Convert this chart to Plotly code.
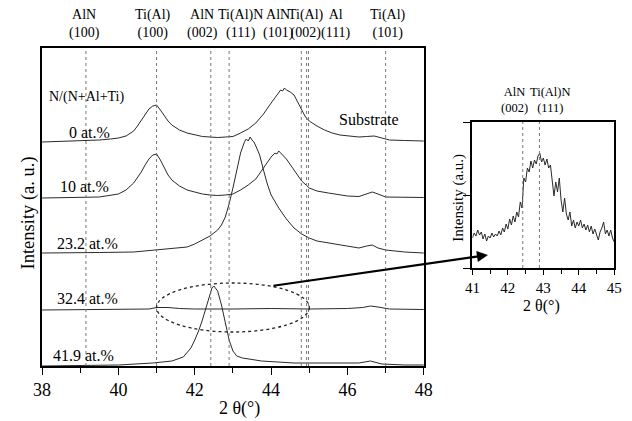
import plotly.graph_objects as go

W, H = 632, 421
FONT = "Liberation Serif, Times New Roman, serif"

# ---------------- data ----------------
# main panel: 2theta (deg) and stacked intensity (a.u., offsets included)
x_0 = [38.0, 38.5, 39.0, 39.5, 39.8, 40.0, 40.2, 40.4, 40.5, 40.6, 40.7, 40.8, 40.9, 41.0,
       41.1, 41.2, 41.3, 41.4, 41.6, 41.8, 42.0, 42.2, 42.4, 42.6, 42.8, 43.0, 43.2, 43.4,
       43.6, 43.8, 44.0, 44.1, 44.2, 44.25, 44.3, 44.35, 44.4, 44.5, 44.6, 44.7, 44.8, 44.9,
       45.0, 45.2, 45.4, 45.6, 45.8, 46.0, 46.3, 46.5, 46.7, 46.9, 47.1, 47.5, 48.0]
y_0 = [225, 225.5, 226, 227, 228, 229, 231, 236, 241, 247, 253, 258, 261, 262,
       257, 251, 246, 242, 237, 234, 232, 230.5, 230, 229.5, 230, 230.5, 234, 238,
       244, 253, 264, 269, 274, 277, 276, 279, 277, 275, 272, 265, 257, 250,
       246, 241, 237, 234, 232, 231, 230, 230.5, 231, 229, 227, 226.5, 226]

x_10 = [38.0, 39.0, 39.5, 40.0, 40.2, 40.4, 40.5, 40.6, 40.7, 40.8, 40.9, 41.0, 41.1, 41.2,
        41.3, 41.4, 41.6, 41.8, 42.0, 42.2, 42.4, 42.6, 42.8, 43.0, 43.2, 43.4, 43.6, 43.8,
        44.0, 44.1, 44.15, 44.2, 44.25, 44.3, 44.4, 44.6, 44.8, 45.0, 45.2, 45.5, 46.0, 46.3,
        46.5, 46.65, 46.8, 47.0, 48.0]
y_10 = [169, 169.5, 170, 173, 177, 184, 189, 195, 202, 208, 212, 213, 207, 199,
        192, 187, 181, 177, 175, 173, 172, 171.5, 172, 173, 177, 182, 188, 199,
        210, 214, 213, 216, 214, 213, 208, 197, 186, 179, 176, 174, 171, 170.5,
        173, 175, 173, 170, 169.5]

x_23 = [38.0, 38.7, 39.5, 40.4, 41.0, 41.6, 41.8, 42.0, 42.2, 42.4, 42.6, 42.7, 42.8, 42.9,
        43.0, 43.1, 43.2, 43.3, 43.35, 43.4, 43.45, 43.5, 43.55, 43.6, 43.7, 43.8, 43.9, 44.0,
        44.2, 44.4, 44.6, 44.8, 45.0, 45.2, 45.5, 46.0, 46.3, 46.5, 46.65, 46.8, 47.0, 47.5, 48.0]
y_23 = [114, 114, 114.5, 115, 117, 119, 120, 123, 127, 131, 137, 142, 150, 163,
        179, 197, 214, 225, 228, 226, 230, 227, 225, 221, 212, 197, 183, 172,
        159, 148, 139, 133, 129, 126, 124, 121, 119, 121, 122, 119, 117, 115, 114]

x_32 = [38.0, 39.0, 40.0, 40.8, 41.0, 41.3, 41.6, 42.0, 43.0, 44.0, 45.0, 46.0, 46.4, 46.6,
        46.8, 47.1, 48.0]
y_32 = [57, 57.5, 57.5, 58, 59.5, 59.5, 58.5, 58, 58, 58.5, 58, 58.5, 59.5, 61,
        60, 58, 57.5]

x_42 = [38.0, 39.0, 40.0, 40.9, 41.4, 41.7, 41.9, 42.0, 42.1, 42.2, 42.3, 42.4, 42.45, 42.5,
        42.55, 42.6, 42.7, 42.8, 42.9, 43.0, 43.1, 43.25, 43.75, 44.6, 46.3, 46.6, 46.9, 47.5, 48.0]
y_42 = [1, 1.5, 2, 4, 6, 10, 19, 27, 36, 47, 60, 73, 79, 81,
        78, 76, 62, 44, 27, 16, 11, 9, 6, 4, 4, 6, 3, 2, 2]

series_x = [x_0, x_10, x_23, x_32, x_42]
series_y = [y_0, y_10, y_23, y_32, y_42]
series_names = ["0 at.%", "10 at.%", "23.2 at.%", "32.4 at.%", "41.9 at.%"]

# reference peak positions (deg) and their labels
peak_pos = [39.15, 41.0, 42.42, 42.9, 44.79, 44.93, 44.98, 47.0]
top_labels = [("AlN<br>(100)", 78), ("Ti(Al)<br>(100)", 148), ("AlN<br>(002)", 199),
              ("Ti(Al)N<br>(111)", 238), ("AlN<br>(101)", 277), ("Ti(Al)<br>(002)", 306),
              ("Al<br>(111)", 337), ("Ti(Al)<br>(101)", 390)]

# inset: 32.4 at.% film, 41-45 deg
inset_x = [41.00, 41.05, 41.10, 41.15, 41.20, 41.25, 41.30, 41.35, 41.40, 41.45, 41.50, 41.55,
           41.60, 41.65, 41.70, 41.75, 41.80, 41.85, 41.90, 41.95, 42.00, 42.05, 42.10, 42.15,
           42.20, 42.25, 42.30, 42.35, 42.40, 42.45, 42.50, 42.55, 42.60, 42.65, 42.70, 42.75,
           42.80, 42.85, 42.90, 42.95, 43.00, 43.05, 43.10, 43.15, 43.20, 43.25, 43.30, 43.35,
           43.40, 43.45, 43.50, 43.55, 43.60, 43.65, 43.70, 43.75, 43.80, 43.85, 43.90, 43.95,
           44.00, 44.05, 44.10, 44.15, 44.20, 44.25, 44.30, 44.35, 44.40, 44.45, 44.50, 44.55,
           44.60, 44.65, 44.70, 44.75, 44.80, 44.85, 44.90, 44.95, 45.00]
inset_y = [30, 35, 32, 38, 33, 36, 29, 34, 27, 32, 30, 35,
           31, 34, 32, 37, 33, 40, 36, 44, 39, 49, 43, 52,
           46, 56, 51, 66, 60, 90, 86, 100, 96, 107, 100, 108,
           104, 112, 115, 106, 110, 103, 109, 100, 103, 90, 72, 86,
           76, 90, 68, 56, 70, 54, 48, 56, 42, 48, 40, 46,
           42, 48, 40, 44, 38, 43, 36, 42, 34, 39, 32, 28,
           36, 40, 46, 34, 38, 32, 38, 30, 26]
inset_peaks = [42.42, 42.89]

# ---------------- helpers (pixel -> paper) ----------------
def px(x):
    return x / W

def py(y):
    return 1 - y / H

fig = go.Figure()

for xs, ys, nm in zip(series_x, series_y, series_names):
    fig.add_trace(go.Scatter(x=xs, y=ys, mode="lines", name=nm,
                             line=dict(color="#2a2a2a", width=1), showlegend=False,
                             xaxis="x", yaxis="y"))

fig.add_trace(go.Scatter(x=inset_x, y=inset_y, mode="lines", showlegend=False,
                         line=dict(color="#2a2a2a", width=1), xaxis="x2", yaxis="y2"))

shapes = []
for p in peak_pos:
    shapes.append(dict(type="line", xref="x", yref="y domain", x0=p, x1=p, y0=0, y1=1,
                       line=dict(color="#777777", width=1, dash="dot")))
for p in inset_peaks:
    shapes.append(dict(type="line", xref="x2", yref="y2 domain", x0=p, x1=p, y0=0, y1=1,
                       line=dict(color="#777777", width=1, dash="dot")))
shapes.append(dict(type="circle", xref="x", yref="y", x0=41.0, x1=45.0, y0=35, y1=84,
                   line=dict(color="#222222", width=1.3, dash="dot")))

ann = []
for txt, xc in top_labels:
    ann.append(dict(text=txt, x=px(xc), y=py(24), xref="paper", yref="paper",
                    showarrow=False, font=dict(family=FONT, size=14, color="black"),
                    xanchor="center", yanchor="middle", align="center"))

label_pos = [(83, 133), (78, 187), (81, 243), (81, 298), (77, 355)]
for nm, (xc, yc) in zip(series_names, label_pos):
    ann.append(dict(text=nm, x=px(xc), y=py(yc), xref="paper", yref="paper", showarrow=False,
                    font=dict(family=FONT, size=16, color="black"),
                    xanchor="center", yanchor="middle"))

ann.append(dict(text="N/(N+Al+Ti)", x=px(80), y=py(97), xref="paper", yref="paper",
                showarrow=False, font=dict(family=FONT, size=14, color="black"),
                xanchor="center", yanchor="middle"))
ann.append(dict(text="Substrate", x=px(371), y=py(119), xref="paper", yref="paper",
                showarrow=False, font=dict(family=FONT, size=16, color="black"),
                xanchor="center", yanchor="middle"))
ann.append(dict(text="Intensity (a. u.)", x=px(20), y=py(213), xref="paper", yref="paper",
                showarrow=False, textangle=-90, font=dict(family=FONT, size=18.5, color="black"),
                xanchor="center", yanchor="middle"))
ann.append(dict(text="2 θ(°)", x=px(237), y=py(408), xref="paper", yref="paper",
                showarrow=False, font=dict(family=FONT, size=18, color="black"),
                xanchor="center", yanchor="middle"))
# inset texts
ann.append(dict(text="AlN<br>(002)", x=px(520), y=py(100), xref="paper", yref="paper",
                showarrow=False, font=dict(family=FONT, size=12.5, color="black"),
                xanchor="center", yanchor="middle"))
ann.append(dict(text="Ti(Al)N<br>(111)", x=px(557), y=py(100), xref="paper", yref="paper",
                showarrow=False, font=dict(family=FONT, size=12.5, color="black"),
                xanchor="center", yanchor="middle"))
ann.append(dict(text="Intensity (a.u.)", x=px(462), y=py(198), xref="paper", yref="paper",
                showarrow=False, textangle=-90, font=dict(family=FONT, size=15, color="black"),
                xanchor="center", yanchor="middle"))
ann.append(dict(text="2 θ(°)", x=px(548), y=py(306), xref="paper", yref="paper",
                showarrow=False, font=dict(family=FONT, size=16, color="black"),
                xanchor="center", yanchor="middle"))
# arrow from ellipse to inset
ann.append(dict(text="", x=px(493), y=py(255), xref="paper", yref="paper", showarrow=True,
                ax=-216, ay=31, arrowhead=2, arrowsize=1, arrowwidth=2.2, arrowcolor="black"))

fig.update_layout(
    width=W, height=H, margin=dict(l=0, r=0, t=0, b=0),
    paper_bgcolor="white", plot_bgcolor="white",
    shapes=shapes, annotations=ann,
    font=dict(family=FONT, color="black"),
    xaxis=dict(domain=[px(34), px(427)], range=[38, 48], tickvals=[38, 40, 42, 44, 46, 48],
               ticks="outside", ticklen=7, tickwidth=1.3, tickcolor="black",
               minor=dict(tickvals=[39, 41, 43, 45, 47], ticks="outside", ticklen=5,
                          tickwidth=1.3, tickcolor="black"),
               showline=True, linecolor="black", linewidth=1.5, mirror=True,
               showgrid=False, zeroline=False, tickfont=dict(family=FONT, size=18),
               anchor="y"),
    yaxis=dict(domain=[py(366), py(48)], range=[1, 319], showticklabels=False, ticks="",
               showline=True, linecolor="black", linewidth=1.5, mirror=True,
               showgrid=False, zeroline=False, anchor="x"),
    xaxis2=dict(domain=[px(477), px(623)], range=[41, 45], tickvals=[41, 42, 43, 44, 45],
                ticks="outside", ticklen=5, tickwidth=1.3, tickcolor="black",
                minor=dict(tickvals=[41.5, 42.5, 43.5, 44.5], ticks="outside", ticklen=4,
                           tickwidth=1.3, tickcolor="black"),
                showline=True, linecolor="black", linewidth=1.5, mirror=True,
                showgrid=False, zeroline=False, tickfont=dict(family=FONT, size=15),
                anchor="y2"),
    yaxis2=dict(domain=[py(268), py(122)], range=[0, 146], tickvals=[0, 73, 146],
                showticklabels=False, ticks="outside", ticklen=8, tickwidth=1.3,
                tickcolor="black", showline=True, linecolor="black", linewidth=1.5,
                mirror=True, showgrid=False, zeroline=False, anchor="x2"),
)

fig.write_html("out.html")
